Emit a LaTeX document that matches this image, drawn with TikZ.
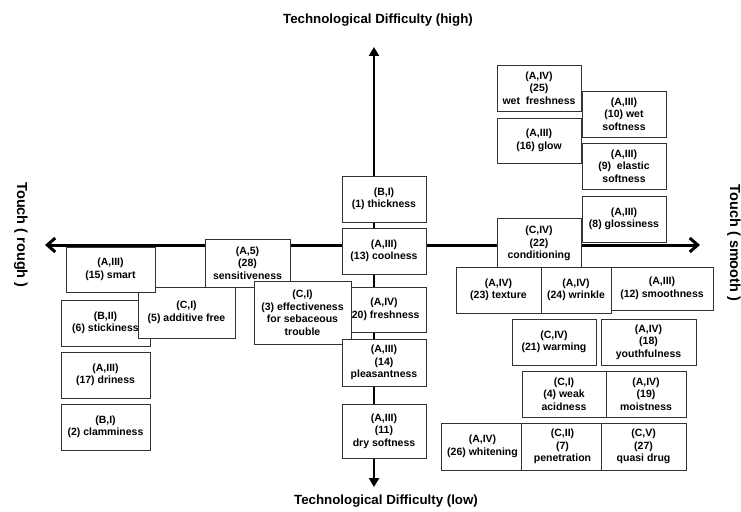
\documentclass[tikz,border=0pt]{standalone}
\usepackage{fontspec}
\setmainfont{Liberation Sans}
\usetikzlibrary{arrows.meta}

\tikzset{
    card/.style={draw=black!80, line width=0.7pt, fill=white, align=center, inner sep=0pt,
        font=\bfseries\fontsize{10.5}{12.5}\selectfont},
    axis/.style={line width=3pt},
    title/.style={font=\bfseries\fontsize{13.3}{16}\selectfont},
    side/.style={font=\bfseries\fontsize{14.5}{17}\selectfont, rotate=-90, anchor=base}
}

\begin{document}
\begin{tikzpicture}[x=1pt, y=-1pt]
        \useasboundingbox (0,0) rectangle (741,511);
        \coordinate (west) at (45,245);
        \coordinate (east) at (700,245);
        \coordinate (north) at (374,47);
        \coordinate (south) at (374,487);
        \draw[axis, {Straight Barb[length=8pt, width=14pt]}-{Straight Barb[length=8pt, width=14pt]}] (west) -- (east);
        \draw[axis, line width=2.8pt, {Triangle[length=9pt, width=10pt]}-{Triangle[length=9pt, width=10pt]}] (south) -- (north);
        \node[title] (high) at (378,20) {Technological Difficulty (high)};
        \node[title] (low) at (386,501) {Technological Difficulty (low)};
        \node[side] (rough) at (17,235) {Touch ( rough )};
        \node[side] (smooth) at (730,243) {Touch ( smooth )};
        \node[card, minimum width=89, minimum height=46] (stickiness) at (105.5,323) {(B,II)\\(6) stickiness};
        \node[card, minimum width=97, minimum height=51] (additive) at (186.5,312.5) {(C,I)\\(5) additive free};
        \node[card, minimum width=89, minimum height=45] (smart) at (110.5,269.5) {(A,III)\\(15) smart};
        \node[card, minimum width=85, minimum height=48] (sensitive) at (247.5,263) {(A,5)\\(28)\\sensitiveness};
        \node[card, minimum width=84, minimum height=45] (freshness) at (384,309.5) {(A,IV)\\(20) freshness};
        \node[card, minimum width=97, minimum height=63] (sebaceous) at (302.5,312.5) {(C,I)\\(3) effectiveness\\for sebaceous\\trouble};
        \node[card, minimum width=89, minimum height=46] (driness) at (105.5,375) {(A,III)\\(17) driness};
        \node[card, minimum width=89, minimum height=46] (clammy) at (105.5,427) {(B,I)\\(2) clamminess};
        \node[card, minimum width=84, minimum height=46] (thickness) at (384,199) {(B,I)\\(1) thickness};
        \node[card, minimum width=84, minimum height=46] (coolness) at (384,251) {(A,III)\\(13) coolness};
        \node[card, minimum width=84, minimum height=47] (pleasant) at (384,362.5) {(A,III)\\(14)\\pleasantness};
        \node[card, minimum width=84, minimum height=54] (drysoft) at (384,431) {(A,III)\\(11)\\dry softness};
        \node[card, minimum width=84, minimum height=46] (wetfresh) at (539,88) {(A,IV)\\(25)\\wet\ \ freshness};
        \node[card, minimum width=84, minimum height=46] (wetsoft) at (624,114) {(A,III)\\(10) wet\\softness};
        \node[card, minimum width=84, minimum height=45] (glow) at (539,140.5) {(A,III)\\(16) glow};
        \node[card, minimum width=84, minimum height=46] (elastic) at (624,166) {(A,III)\\(9)\ \ elastic\\softness};
        \node[card, minimum width=84, minimum height=46] (glossy) at (624,219) {(A,III)\\(8) glossiness};
        \node[card, minimum width=84, minimum height=51] (condition) at (539,243.5) {(C,IV)\\(22)\\conditioning};
        \node[card, minimum width=102, minimum height=43] (smoothness) at (662,288.5) {(A,III)\\(12) smoothness};
        \node[card, minimum width=85, minimum height=46] (texture) at (498.5,290) {(A,IV)\\(23) texture};
        \node[card, minimum width=70, minimum height=46] (wrinkle) at (576,290) {(A,IV)\\(24) wrinkle};
        \node[card, minimum width=84, minimum height=46] (warming) at (554,342) {(C,IV)\\(21) warming};
        \node[card, minimum width=95, minimum height=46] (youth) at (648.5,342) {(A,IV)\\(18)\\youthfulness};
        \node[card, minimum width=84, minimum height=46] (acid) at (564,394) {(C,I)\\(4) weak\\acidness};
        \node[card, minimum width=80, minimum height=46] (moist) at (646,394) {(A,IV)\\(19)\\moistness};
        \node[card, minimum width=83, minimum height=47] (whitening) at (482.5,446.5) {(A,IV)\\(26) whitening};
        \node[card, minimum width=83, minimum height=47] (penetrate) at (562.5,446.5) {(C,II)\\(7)\\penetration};
        \node[card, minimum width=85, minimum height=47] (quasi) at (643.5,446.5) {(C,V)\\(27)\\quasi drug};
    \end{tikzpicture}
\end{document}
